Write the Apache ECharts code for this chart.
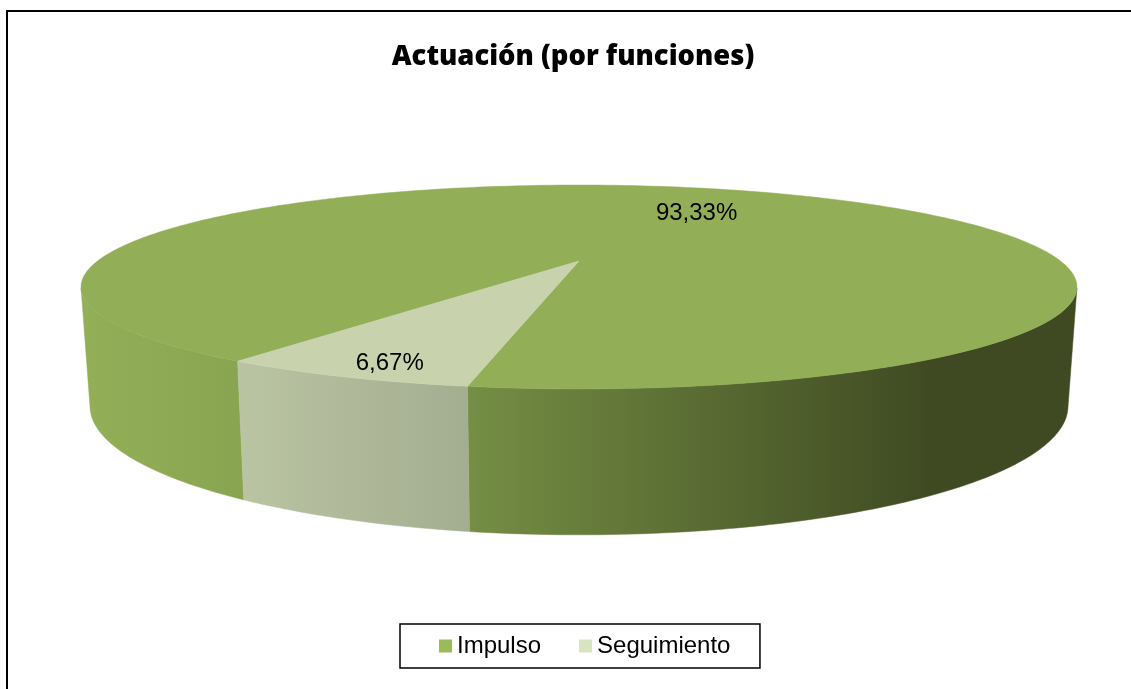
<!DOCTYPE html>
<html><head><meta charset="utf-8">
<style>html,body{margin:0;padding:0;background:#fff}#c{width:1131px;height:689px}</style>
<script src="https://cdn.jsdelivr.net/npm/echarts@6/dist/echarts.min.js"></script>
</head><body><div id="c"></div>
<script>
var titleText = 'Actuación (por funciones)';
var categories = ['Impulso', 'Seguimiento'];
var seriesValues = [93.33, 6.67];
var valueLabels = ['93,33%', '6,67%'];

/* layout: projective view of the disc, angles in degrees, measured from the front going left */
var START_ANGLE = 34;
var VIEW = { cx: 579, w: -0.2549, top: { a: 481.5, b: 261, c: 28.8 }, bottom: { a: 472.8, b: 373.5, c: 25 } };
var LABEL = [{ r: 0.65, dx: 16, dy: 2 }, { r: 0.89, dx: 14, dy: 3 }];
var FACE = ['#92ae57', '#c8d3ae'];
var SIDE = [
  [[0, '#92ae57'], [0.32, '#7f9b4a'], [0.4, '#738c43'], [0.86, '#3f4a22'], [1, '#3f4a22']],
  [[0, '#c8d3ae'], [0.39, '#a3ad90'], [1, '#a3ad90']]
];
var total = seriesValues.reduce(function (s, v) { return s + v; }, 0);

function project(deg, r, plane) {
  var t = deg * Math.PI / 180, x = -Math.sin(t) * r, y = Math.cos(t) * r, d = 1 + VIEW.w * y;
  return [VIEW.cx + plane.a * x / d, (plane.b + plane.c * y) / d];
}
function arcPoints(from, to, plane) {
  var pts = [], n = Math.max(2, Math.ceil(Math.abs(to - from)));
  for (var i = 0; i <= n; i++) pts.push(project(from + (to - from) * i / n, 1, plane));
  return pts;
}
function sliceRange(idx) {
  var a = START_ANGLE + (idx === 0 ? 0 : 360 * seriesValues[0] / total);
  return [a, a + 360 * seriesValues[idx] / total];
}
function renderSlice(params) {
  var idx = params.seriesIndex, range = sliceRange(idx), kids = [];
  var stops = SIDE[idx].map(function (s) { return { offset: s[0], color: s[1] }; });
  var grad = { type: 'linear', x: 90, y: 0, x2: 1068, y2: 0, global: true, colorStops: stops };
  /* visible wall: the front half of the rim, taken in two turns so the wrap past 360 is caught */
  [[-74.5, 74.5], [285.5, 434.5]].forEach(function (win) {
    var from = Math.max(range[0], win[0]), to = Math.min(range[1], win[1]);
    if (to <= from) return;
    var pts = arcPoints(from, to, VIEW.top).concat(arcPoints(to, from, VIEW.bottom));
    kids.push({ type: 'polygon', shape: { points: pts }, style: { fill: grad, stroke: grad, lineWidth: 0.5 } });
  });
  return { type: 'group', children: kids };
}
function renderFace(params) {
  var idx = params.seriesIndex - categories.length, range = sliceRange(idx);
  var pts = [project(0, 0, VIEW.top)].concat(arcPoints(range[0], range[1], VIEW.top));
  var mid = (range[0] + range[1]) / 2, p = project(mid, LABEL[idx].r, VIEW.top);
  return { type: 'group', children: [
    { type: 'polygon', shape: { points: pts }, style: { fill: FACE[idx], stroke: FACE[idx], lineWidth: 0.5 } },
    { type: 'text', z2: 10, style: { text: valueLabels[idx], x: p[0] + LABEL[idx].dx, y: p[1] + LABEL[idx].dy,
      align: 'center', verticalAlign: 'middle', fill: '#000', fontFamily: 'Liberation Sans', fontSize: 24 } }
  ] };
}
var legendColors = ['#9bbb59', '#d7e4bd'];
var series = [];
categories.forEach(function (name, i) {
  series.push({ type: 'custom', name: name, coordinateSystem: 'none', renderItem: renderSlice,
    data: [seriesValues[i]], silent: true, animation: false, z: 2 + i, itemStyle: { color: legendColors[i] } });
});
categories.forEach(function (name, i) {
  series.push({ type: 'custom', name: name + ' (cara)', coordinateSystem: 'none', renderItem: renderFace,
    data: [seriesValues[i]], silent: true, animation: false, z: 5 + i, itemStyle: { color: legendColors[i] } });
});
var chart = echarts.init(document.getElementById('c'), null, { renderer: 'canvas' });
chart.setOption({
  animation: false,
  backgroundColor: '#fff',
  title: { text: titleText, left: 568, top: 39, textAlign: 'center',
    textStyle: { fontFamily: 'Open Sans', fontWeight: 800, fontSize: 27.4, color: '#000' } },
  legend: { data: categories, left: 400, top: 624, orient: 'horizontal',
    icon: 'rect', itemWidth: 13, itemHeight: 13, itemGap: 38, padding: [10, 29.5, 10, 39],
    borderColor: '#000', borderWidth: 1.5, backgroundColor: '#fff', selectedMode: false,
    textStyle: { fontFamily: 'Liberation Sans', fontSize: 24, color: '#000' } },
  graphic: [{ type: 'polyline', silent: true, z: 100,
    shape: { points: [[7, 689], [7, 11], [1131, 11]] },
    style: { stroke: '#000', lineWidth: 2, fill: null } }],
  series: series
});
</script></body></html>
